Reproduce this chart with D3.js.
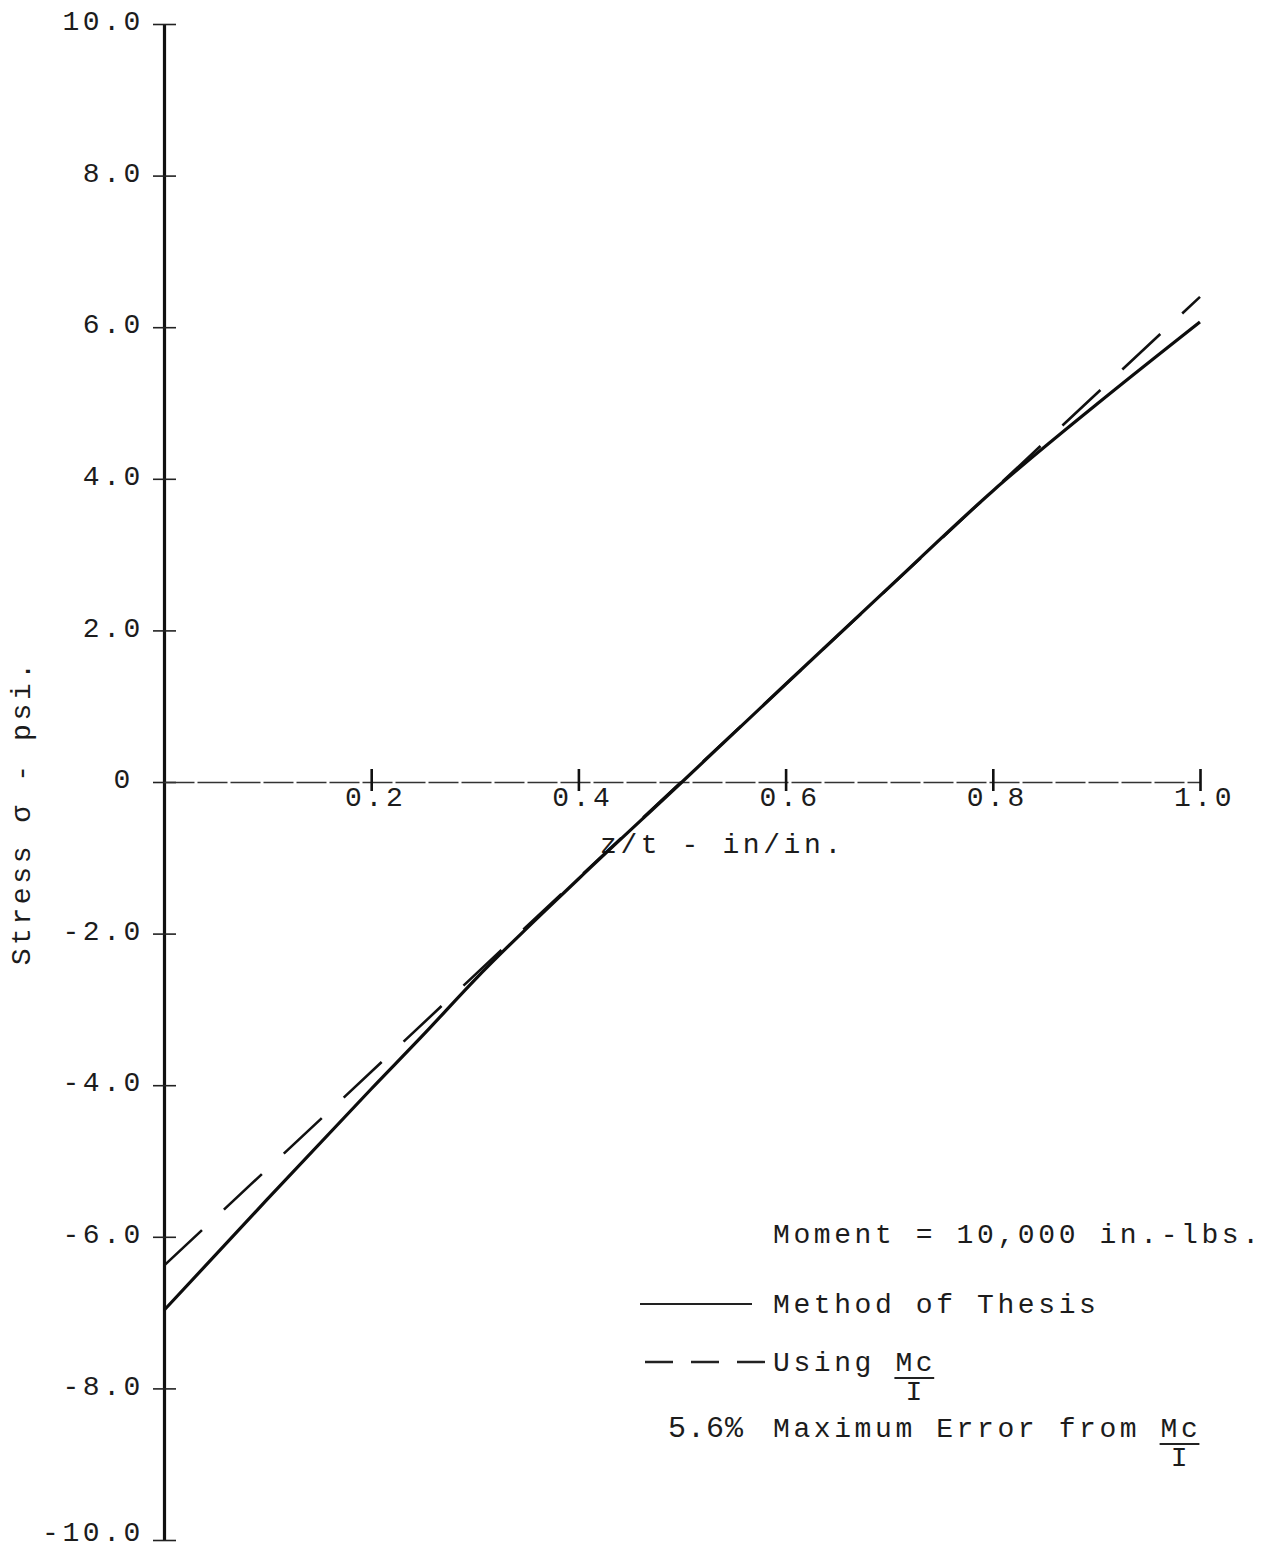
<!DOCTYPE html>
<html>
<head>
<meta charset="utf-8">
<script src="https://cdn.jsdelivr.net/npm/d3@7"></script>
<style>
  body { margin: 0; background: #fff; }
  text { font-family: "Liberation Mono", "Courier New", monospace; fill: #1c1c1c; }
</style>
</head>
<body>
<svg id="chart" width="1276" height="1551"></svg>
<script>
// Stress distribution through the thickness, moment = 10,000 in.-lbs.
const zt           = [0.0, 0.1, 0.2, 0.25, 0.3, 0.4, 0.5, 0.6, 0.7, 0.8, 0.9, 1.0];
const thesisStress = [-6.97, -5.50, -4.05, -3.34, -2.61, -1.28, 0.0, 1.29, 2.57, 3.84, 4.98, 6.07];
const mcIzt        = [0.0, 1.0];
const mcIStress    = [-6.38, 6.40];

const yTickValues = [10, 8, 6, 4, 2, 0, -2, -4, -6, -8, -10];
const yTickLabels = ["10.0", "8.0", "6.0", "4.0", "2.0", "0", "-2.0", "-4.0", "-6.0", "-8.0", "-10.0"];
const xTickValues = [0.2, 0.4, 0.6, 0.8, 1.0];
const xTickLabels = ["0.2", "0.4", "0.6", "0.8", "1.0"];

const svg = d3.select("#chart");
const x = d3.scaleLinear().domain([0, 1]).range([164, 1200]);
const y = d3.scaleLinear().domain([-10, 10]).range([1540, 24]);

const FONT = 28, SPACING = 3.6;

// vertical stress axis
const yAxis = svg.append("g")
  .attr("transform", `translate(${x(0)},0)`)
  .call(d3.axisLeft(y).tickValues(yTickValues).tickSize(0).tickPadding(20)
    .tickFormat((d, i) => yTickLabels[i]));
yAxis.select(".domain").attr("stroke", "#111").attr("stroke-width", 3.2);
yAxis.selectAll(".tick text")
  .attr("font-size", FONT).attr("letter-spacing", SPACING)
  .attr("font-family", "Liberation Mono").attr("fill", "#1c1c1c")
  .attr("dy", d => d === -10 ? "0em" : "0.2em")
  .attr("x", d => d === 0 ? -30 : -20);
yAxis.selectAll(".tick").append("line")
  .attr("x1", -11).attr("x2", 12)
  .attr("stroke", "#222").attr("stroke-width", 1.6);

// horizontal z/t axis along zero stress
const xAxis = svg.append("g")
  .attr("transform", `translate(0,${y(0)})`)
  .call(d3.axisBottom(x).tickValues(xTickValues).tickSizeInner(0).tickSizeOuter(0).tickPadding(4)
    .tickFormat((d, i) => xTickLabels[i]));
xAxis.select(".domain").attr("stroke", "#333").attr("stroke-width", 1.7)
  .attr("stroke-dasharray", "30,3");
xAxis.selectAll(".tick text")
  .attr("font-size", FONT).attr("letter-spacing", SPACING)
  .attr("font-family", "Liberation Mono").attr("fill", "#1c1c1c")
  .attr("text-anchor", "middle").attr("dx", 4);
xAxis.selectAll(".tick").append("line")
  .attr("y1", -13).attr("y2", 9)
  .attr("stroke", "#111").attr("stroke-width", 2.6);

// axis titles
svg.append("text")
  .attr("transform", `translate(30,${y(-0.4)}) rotate(-90)`)
  .attr("text-anchor", "middle")
  .attr("font-size", FONT).attr("letter-spacing", SPACING)
  .text("Stress σ - psi.");
svg.append("text")
  .attr("x", 600).attr("y", 853)
  .attr("font-size", FONT).attr("letter-spacing", SPACING)
  .text("z/t - in/in.");

// curves
const line = d3.line().x(d => x(d[0])).y(d => y(d[1]));
svg.append("path")
  .datum(mcIzt.map((v, i) => [v, mcIStress[i]]))
  .attr("d", line)
  .attr("fill", "none").attr("stroke", "#111").attr("stroke-width", 2.6)
  .attr("stroke-dasharray", "52,30");
svg.append("path")
  .datum(zt.map((v, i) => [v, thesisStress[i]]))
  .attr("d", line.curve(d3.curveMonotoneX))
  .attr("fill", "none").attr("stroke", "#0d0d0d").attr("stroke-width", 3.2);

// legend block
const lx = 773;
const txt = (tx, ty, s) => svg.append("text")
  .attr("x", tx).attr("y", ty)
  .attr("font-size", FONT).attr("letter-spacing", SPACING).text(s);

txt(lx, 1243, "Moment = 10,000 in.-lbs.");

svg.append("line").attr("x1", 640).attr("x2", 752).attr("y1", 1304).attr("y2", 1304)
  .attr("stroke", "#222").attr("stroke-width", 2);
txt(lx, 1313, "Method of Thesis");

svg.append("line").attr("x1", 645).attr("x2", 765).attr("y1", 1362).attr("y2", 1362)
  .attr("stroke", "#222").attr("stroke-width", 2.4).attr("stroke-dasharray", "28,18");
txt(lx, 1371, "Using");
const pitch = FONT * 0.6 + SPACING;
function fraction(fx, fy) {
  txt(fx, fy, "Mc");
  svg.append("line").attr("x1", fx - 1).attr("x2", fx + 2 * pitch - 2)
    .attr("y1", fy + 7).attr("y2", fy + 7).attr("stroke", "#222").attr("stroke-width", 2);
  svg.append("text").attr("x", fx + pitch - SPACING / 2).attr("y", fy + 29)
    .attr("text-anchor", "middle").attr("font-size", FONT).text("I");
}
fraction(lx + 6 * pitch, 1371);

svg.append("text").attr("x", 668).attr("y", 1437)
  .attr("font-size", 30).attr("letter-spacing", 1).text("5.6%");
txt(lx, 1437, "Maximum Error from");
fraction(lx + 19 * pitch, 1437);
</script>
</body>
</html>
